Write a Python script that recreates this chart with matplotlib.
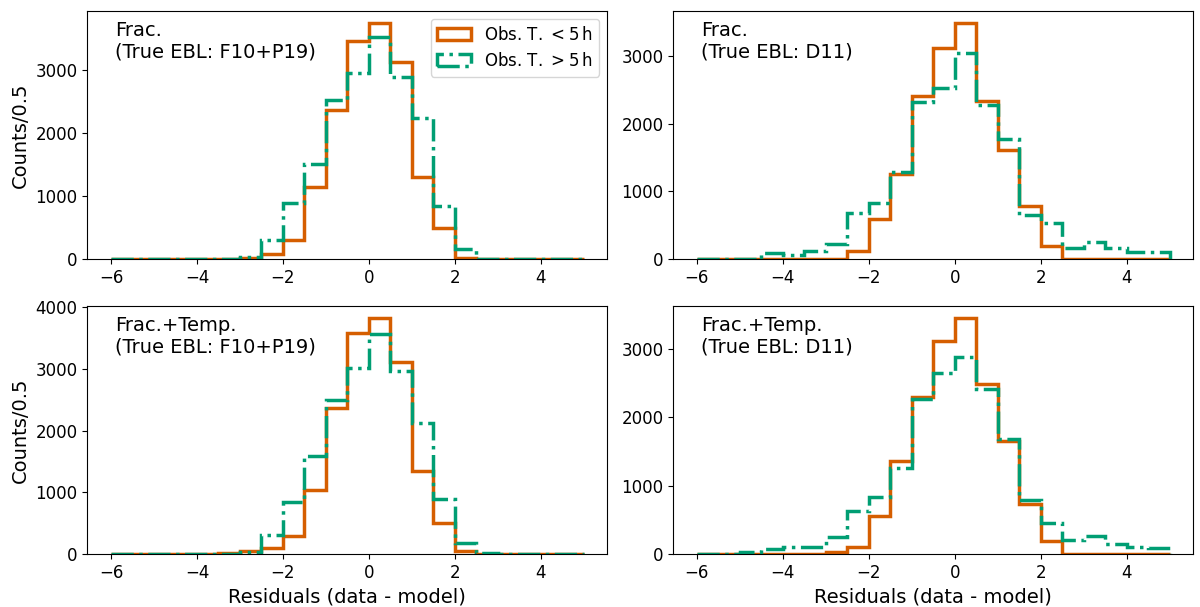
import numpy as np
import matplotlib
matplotlib.use("Agg")
import matplotlib.pyplot as plt


# residual histograms, bins of 0.5 from -6 to 5
bin_edges = np.arange(-6.0, 5.01, 0.5)
bin_centers = 0.5 * (bin_edges[:-1] + bin_edges[1:])

panel_titles = [
    "Frac.\n(True EBL: F10+P19)",
    "Frac.\n(True EBL: D11)",
    "Frac.+Temp.\n(True EBL: F10+P19)",
    "Frac.+Temp.\n(True EBL: D11)",
]

# counts per bin, short observation time (< 5 h)
short_frac_f10 = [0, 0, 0, 0, 0, 2, 15, 90, 300, 1140, 2360, 3450,
                  3750, 3130, 1300, 500, 25, 5, 3, 2, 2, 2]
short_frac_d11 = [0, 0, 0, 0, 0, 0, 5, 130, 590, 1260, 2410, 3120,
                  3490, 2330, 1610, 790, 190, 0, 0, 0, 0, 0]
short_temp_f10 = [0, 0, 0, 0, 0, 15, 60, 100, 300, 1040, 2360, 3580,
                  3830, 3110, 1350, 500, 60, 5, 3, 2, 2, 2]
short_temp_d11 = [0, 0, 0, 0, 0, 0, 40, 110, 560, 1370, 2300, 3110,
                  3460, 2490, 1650, 730, 200, 0, 0, 0, 0, 0]

# counts per bin, long observation time (> 5 h)
long_frac_f10 = [0, 0, 0, 0, 0, 5, 40, 300, 900, 1510, 2530, 2950,
                 3520, 2880, 2240, 850, 160, 10, 5, 5, 5, 5]
long_frac_d11 = [0, 0, 0, 90, 70, 130, 220, 680, 830, 1280, 2320, 2520,
                 3040, 2280, 1770, 660, 540, 160, 260, 160, 110, 110]
long_temp_f10 = [0, 0, 0, 0, 0, 5, 40, 320, 850, 1590, 2490, 3010,
                 3560, 2960, 2120, 890, 190, 25, 5, 5, 5, 5]
long_temp_d11 = [0, 0, 30, 80, 100, 100, 260, 640, 840, 1260, 2270, 2650,
                 2890, 2410, 1690, 800, 460, 210, 270, 150, 110, 90]

short_counts = [short_frac_f10, short_frac_d11, short_temp_f10, short_temp_d11]
long_counts = [long_frac_f10, long_frac_d11, long_temp_f10, long_temp_d11]

ORANGE = "#d55e00"
GREEN = "#009e73"


def main():
    fig, axes = plt.subplots(2, 2, figsize=(12, 6.07), dpi=100)
    fig.subplots_adjust(left=0.0728, right=0.9944, bottom=0.0868,
                        top=0.9824, wspace=0.1265, hspace=0.1863)

    for i, ax in enumerate(axes.flat):
        ax.hist(bin_centers, bins=bin_edges, weights=short_counts[i],
                histtype="step", color=ORANGE, lw=2.5,
                label=r"Obs. T. $<5\,$h")
        ax.hist(bin_centers, bins=bin_edges, weights=long_counts[i],
                histtype="step", color=GREEN, lw=2.5, ls="-.",
                label=r"Obs. T. $>5\,$h")
        ax.set_xticks([-6, -4, -2, 0, 2, 4])
        ax.tick_params(labelsize=12)
        ax.text(0.053, 0.96, panel_titles[i], transform=ax.transAxes,
                ha="left", va="top", fontsize=14)

    axes[0, 0].legend(loc="upper right", fontsize=12)
    axes[0, 0].set_ylabel("Counts/0.5", fontsize=14)
    axes[1, 0].set_ylabel("Counts/0.5", fontsize=14)
    axes[1, 0].set_xlabel("Residuals (data - model)", fontsize=14)
    axes[1, 1].set_xlabel("Residuals (data - model)", fontsize=14)

    fig.savefig("out.png", dpi=100)


if __name__ == "__main__":
    main()
